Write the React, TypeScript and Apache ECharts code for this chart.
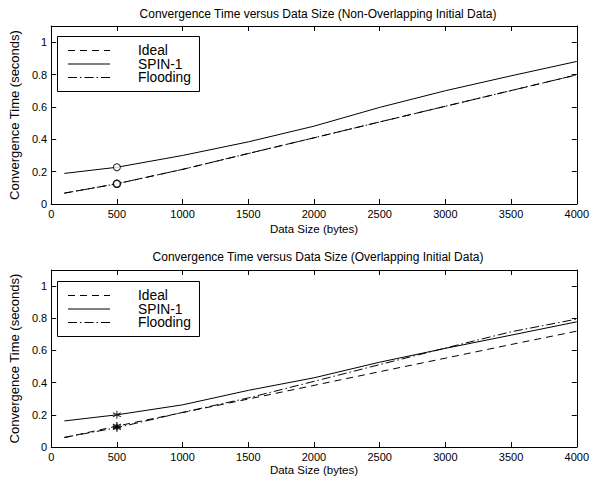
import React, { useEffect, useRef } from "react";
import * as echarts from "echarts";

// ---- Data ----
const dataSizes = [100, 500, 1000, 1500, 2000, 2500, 3000, 3500, 4000];

// Top panel: Non-Overlapping Initial Data
const topIdeal = [0.067, 0.125, 0.214, 0.312, 0.409, 0.507, 0.604, 0.701, 0.798];
const topSpin = [0.189, 0.227, 0.3, 0.384, 0.481, 0.597, 0.7, 0.792, 0.881];
const topFlooding = [0.067, 0.125, 0.214, 0.312, 0.409, 0.507, 0.604, 0.701, 0.798];

// Bottom panel: Overlapping Initial Data
const bottomIdeal = [0.058, 0.13, 0.214, 0.298, 0.383, 0.468, 0.552, 0.637, 0.72];
const bottomSpin = [0.162, 0.2, 0.262, 0.352, 0.43, 0.527, 0.613, 0.695, 0.778];
const bottomFlooding = [0.06, 0.12, 0.215, 0.305, 0.408, 0.512, 0.615, 0.716, 0.795];

const markerSize = 500; // data size where markers are drawn

const titles = [
  "Convergence Time versus Data Size (Non-Overlapping Initial Data)",
  "Convergence Time versus Data Size (Overlapping Initial Data)",
];
const seriesNames = ["Ideal", "SPIN-1", "Flooding"];
const xAxisName = "Data Size (bytes)";
const yAxisName = "Convergence Time (seconds)";

const FONT = "'Liberation Sans', Arial, Helvetica, sans-serif";
const DASH = [7, 5];
const DASHDOT = [9, 3, 1.5, 3];
const ASTERISK = "path://M5 0L5 10M0.67 2.5L9.33 7.5M0.67 7.5L9.33 2.5";

function zip(xs: number[], ys: number[]) {
  return xs.map((x, i) => [x, ys[i]]);
}
function markerAt(xs: number[], ys: number[]) {
  const i = xs.indexOf(markerSize);
  return [[xs[i], ys[i]]];
}

export default function App() {
  const ref = useRef<HTMLDivElement>(null);

  useEffect(() => {
    if (!ref.current) return;
    const chart = echarts.init(ref.current, undefined, { renderer: "svg" });

    const grids = [
      { left: 44, top: 26, width: 535, height: 178 },
      { left: 44, top: 270, width: 535, height: 177 },
    ];

    const axisLine = { show: true, onZero: false, lineStyle: { color: "#000", width: 1 } };
    const tick = { show: true, inside: true, length: 5, lineStyle: { color: "#000", width: 1 } };

    const xAxes: any[] = [];
    const yAxes: any[] = [];
    [0, 1].forEach((g) => {
      xAxes.push({
        type: "value",
        gridIndex: g,
        position: "bottom",
        min: 0,
        max: 4000,
        interval: 500,
        axisLine,
        axisTick: tick,
        splitLine: { show: false },
        axisLabel: { color: "#000", fontSize: 11, fontFamily: FONT, margin: 4, formatter: (v: number) => String(v) },
        name: xAxisName,
        nameLocation: "middle",
        nameGap: g === 0 ? 19 : 17,
        nameTextStyle: { color: "#000", fontSize: 11.5, fontFamily: FONT },
      });
      xAxes.push({
        type: "value",
        gridIndex: g,
        position: "top",
        min: 0,
        max: 4000,
        interval: 500,
        axisLine,
        axisTick: tick,
        splitLine: { show: false },
        axisLabel: { show: false },
      });
      yAxes.push({
        type: "value",
        gridIndex: g,
        position: "left",
        min: 0,
        max: 1.1,
        interval: 0.2,
        axisLine,
        axisTick: tick,
        splitLine: { show: false },
        axisLabel: { color: "#000", fontSize: 11, fontFamily: FONT, margin: 4, showMaxLabel: false },
        name: yAxisName,
        nameLocation: "middle",
        nameGap: 25,
        nameTextStyle: { color: "#000", fontSize: 13, fontFamily: FONT },
      });
      yAxes.push({
        type: "value",
        gridIndex: g,
        position: "right",
        min: 0,
        max: 1.1,
        interval: 0.2,
        axisLine,
        axisTick: tick,
        splitLine: { show: false },
        axisLabel: { show: false },
      });
    });

    const panels = [
      { ideal: topIdeal, spin: topSpin, flood: topFlooding, marker: "circle" },
      { ideal: bottomIdeal, spin: bottomSpin, flood: bottomFlooding, marker: "asterisk" },
    ];

    const series: any[] = [];
    panels.forEach((p, g) => {
      const common = {
        type: "line",
        xAxisIndex: g * 2,
        yAxisIndex: g * 2,
        symbol: "none",
        silent: true,
      };
      series.push({ ...common, name: seriesNames[0], data: zip(dataSizes, p.ideal), lineStyle: { color: "#000", width: 1, type: DASH } });
      series.push({ ...common, name: seriesNames[1], data: zip(dataSizes, p.spin), lineStyle: { color: "#000", width: 1, type: "solid" } });
      series.push({ ...common, name: seriesNames[2], data: zip(dataSizes, p.flood), lineStyle: { color: "#000", width: 1, type: DASHDOT } });
      [p.ideal, p.spin, p.flood].forEach((ys, k) => {
        const isCircle = p.marker === "circle";
        series.push({
          type: "scatter",
          xAxisIndex: g * 2,
          yAxisIndex: g * 2,
          silent: true,
          data: markerAt(dataSizes, ys),
          symbol: isCircle ? "circle" : ASTERISK,
          symbolSize: isCircle ? 7 : 8,
          itemStyle: isCircle
            ? { color: "#fff", borderColor: "#000", borderWidth: k === 1 ? 1.1 : 1.4 }
            : { color: "none", borderColor: "#000", borderWidth: k === 1 ? 1.1 : 1.4 },
          z: 5,
        });
      });
    });

    // Legends drawn as boxed keys (MATLAB-style)
    const legendTops = [36, 281];
    const graphic: any[] = [];
    legendTops.forEach((top) => {
      graphic.push({
        type: "rect",
        shape: { x: 57.5, y: top + 0.5, width: 142, height: 55 },
        style: { fill: "#fff", stroke: "#000", lineWidth: 1 },
        z: 100,
      });
      const dashes = [DASH, null, DASHDOT];
      seriesNames.forEach((nm, i) => {
        const y = top + 14.5 + i * 13.5;
        graphic.push({
          type: "line",
          shape: { x1: 68, y1: y, x2: 110, y2: y },
          style: { stroke: "#000", lineWidth: 1, lineDash: dashes[i] || undefined },
          z: 101,
        });
        graphic.push({
          type: "text",
          x: 138,
          y,
          style: { text: nm, fill: "#000", fontSize: 13.8, fontFamily: FONT, verticalAlign: "middle", align: "left" },
          z: 101,
        });
      });
    });

    const titleStyle = { color: "#000", fontSize: 12, fontWeight: "normal", fontFamily: FONT };
    chart.setOption({
      animation: false,
      backgroundColor: "#fff",
      title: [
        { text: titles[0], left: 313, top: 3, textAlign: "center", textStyle: titleStyle },
        { text: titles[1], left: 313, top: 246, textAlign: "center", textStyle: titleStyle },
      ],
      grid: grids,
      xAxis: xAxes,
      yAxis: yAxes,
      series,
      graphic,
    });

    return () => chart.dispose();
  }, []);

  return <div ref={ref} style={{ position: "fixed", left: 0, top: 0, width: 592, height: 481 }} />;
}
